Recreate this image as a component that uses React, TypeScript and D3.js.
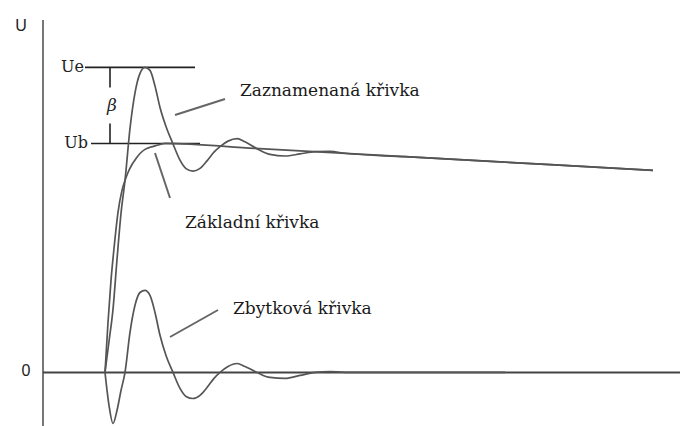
import React from "react";
import * as d3 from "d3";

// Time samples (arbitrary units) and voltage (U) readings for each curve
const basicT = [0, 0.6, 1.2, 1.8, 2.6, 3.4, 4, 4.6, 5.4, 6.2, 7, 8, 9, 10, 12, 30, 60, 90, 109.6];
const basicU = [0, 21.8, 40.2, 54.1, 69.9, 79.5, 83.8, 87.3, 90.8, 93.4, 95.6, 97.4, 98.3, 98.9, 100, 97.8, 94.2, 90.6, 88.2];

const residualT = [0, 0.8, 1.6, 2.4, 3.2, 4, 5, 6, 7, 8, 9, 10, 11, 12.2, 13.6, 15, 16.2, 17.6, 19, 20.4, 21.8, 23, 24.6, 26.4, 28, 30.4, 33, 36, 39, 42, 45, 48, 80];
const residualU = [0, -14.4, -22.3, -16.6, -7.9, 0, 17.5, 29.3, 34.9, 35.8, 33.6, 26.2, 16.2, 7.4, 0, -7.0, -10.5, -11.4, -10.0, -6.6, -2.6, 0, 2.6, 3.9, 2.6, 0, -2.2, -2.6, -1.3, 0, 0.4, 0, 0];

const recordedT = [0, 0.8, 1.6, 2.4, 3.2, 4, 5, 6, 7, 8, 9, 10, 11, 12.2, 13.6, 15, 16.2, 17.6, 19, 20.4, 21.8, 23, 24.6, 26.4, 28, 30.4, 33, 36, 39, 42, 45, 48, 60, 90, 109.6];
const recordedU = [0, 13.5, 27.5, 49.3, 69.4, 83.8, 106.6, 122.1, 130.6, 133.2, 131.9, 125.1, 115.7, 107.4, 99.8, 92.7, 89.0, 87.9, 89.1, 92.4, 96.2, 98.6, 101.0, 102.1, 100.7, 97.7, 95.2, 94.5, 95.4, 96.4, 96.5, 95.7, 94.2, 90.6, 88.2];

// Reference levels
const levelUe = 133.2;
const levelUb = 100;

const W = 682;
const H = 426;

const x = d3.scaleLinear().domain([-12.4, 110]).range([43, 655]);
const y = d3.scaleLinear().domain([-23.4, 153.9]).range([426, 20]);

const line = d3
  .line<[number, number]>()
  .x((d) => x(d[0]))
  .y((d) => y(d[1]))
  .curve(d3.curveMonotoneX);

const zip = (ts: number[], us: number[]) => ts.map((t, i) => [t, us[i]] as [number, number]);

const serif = "'DejaVu Serif', serif";
const sans = "'Liberation Sans', Arial, sans-serif";

export default function App() {
  const curveColor = "#555";
  const ruleColor = "#222";
  const leaderColor = "#666";

  return (
    <svg
      width={W}
      height={H}
      viewBox={`0 0 ${W} ${H}`}
      style={{ position: "absolute", left: 0, top: 0, background: "#fff" }}
    >
      {/* vertical U axis */}
      <line x1={x(-12.4)} x2={x(-12.4)} y1={y(153.9)} y2={H} stroke="#777" strokeWidth={2} />
      <text x={21} y={31} fontFamily={sans} fontSize={16} fill="#222" textAnchor="middle">
        U
      </text>

      {/* time axis at U = 0 */}
      <line x1={x(-12.4)} x2={680} y1={y(0)} y2={y(0)} stroke="#444" strokeWidth={2} />
      <text x={26} y={376} fontFamily={sans} fontSize={16} fill="#222" textAnchor="middle">
        0
      </text>

      {/* Ue and Ub levels */}
      <line x1={85} x2={195} y1={y(levelUe)} y2={y(levelUe)} stroke={ruleColor} strokeWidth={1.6} />
      <text x={84} y={y(levelUe) + 5} fontFamily={serif} fontSize={16} fill="#222" textAnchor="end">
        Ue
      </text>
      <line x1={91} x2={200} y1={y(levelUb)} y2={y(levelUb)} stroke={ruleColor} strokeWidth={1.6} />
      <text x={88} y={y(levelUb) + 5} fontFamily={serif} fontSize={16} fill="#222" textAnchor="end">
        Ub
      </text>

      {/* β span between the two levels */}
      <line x1={110} x2={110} y1={y(levelUe)} y2={y(levelUe) + 20} stroke={ruleColor} strokeWidth={1.6} />
      <line x1={110} x2={110} y1={y(levelUb) - 20} y2={y(levelUb)} stroke={ruleColor} strokeWidth={1.6} />
      <text x={112} y={y((levelUe + levelUb) / 2) + 6} fontFamily={serif} fontStyle="italic" fontSize={17} fill="#222" textAnchor="middle">
        β
      </text>

      {/* curves */}
      <path d={line(zip(residualT, residualU)) || ""} fill="none" stroke={curveColor} strokeWidth={1.7} />
      <path d={line(zip(basicT, basicU)) || ""} fill="none" stroke={curveColor} strokeWidth={1.7} />
      <path d={line(zip(recordedT, recordedU)) || ""} fill="none" stroke={curveColor} strokeWidth={1.7} />

      {/* labels with leader lines */}
      <line x1={175} y1={115} x2={225} y2={99} stroke={leaderColor} strokeWidth={2} />
      <text x={240} y={96} fontFamily={serif} fontSize={17} fill="#1a1a1a">
        Zaznamenaná křivka
      </text>

      <line x1={155} y1={153} x2={170} y2={198} stroke={leaderColor} strokeWidth={2} />
      <text x={185} y={228} fontFamily={serif} fontSize={17} fill="#1a1a1a">
        Základní křivka
      </text>

      <line x1={170} y1={337} x2={218} y2={310} stroke={leaderColor} strokeWidth={2} />
      <text x={233} y={314} fontFamily={serif} fontSize={17} fill="#1a1a1a">
        Zbytková křivka
      </text>
    </svg>
  );
}
